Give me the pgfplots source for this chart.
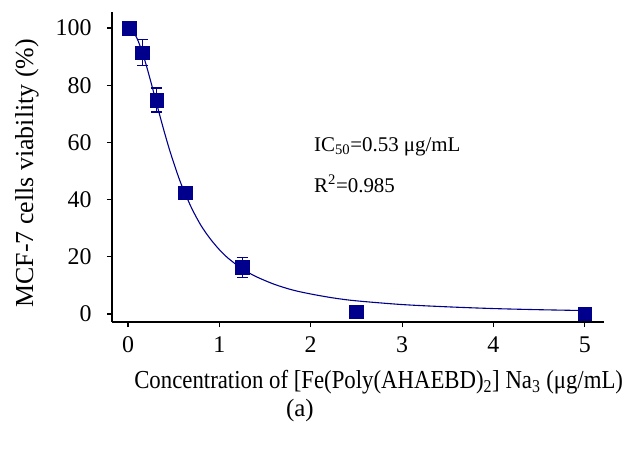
\documentclass[border=0pt]{standalone}
\usepackage{fontspec}
\setmainfont{Liberation Serif}
\newfontfamily\narrowserif{Liberation Serif}[FakeStretch=0.88]
\usepackage{pgfplots}
\pgfplotsset{compat=1.18}
\definecolor{navyblue}{RGB}{0,0,140}

\begin{document}
\begin{tikzpicture}
\begin{axis}[
    scale only axis,
    width=492bp, height=310bp,
    xmin=-0.175, xmax=5.21,
    ymin=-2.8, ymax=105.6,
    axis lines*=left,
    axis line style={line width=1.3bp, -},
    xtick={0,1,2,3,4,5},
    ytick={0,20,40,60,80,100},
    tick align=outside,
    major tick length=5bp,
    tick style={line width=1.1bp, black},
    /pgf/number format/assume math mode=true,
    ticklabel style={font=\fontsize{24}{24}\selectfont},
    yticklabel style={xshift=-12bp},
    xticklabel style={yshift=-6bp},
    xlabel={Concentration of [Fe(Poly(AHAEBD)\textsubscript{2}] Na\textsubscript{3} (μg/mL)},
    ylabel={MCF-7 cells viability (\%)},
    xlabel style={font=\narrowserif\fontsize{26}{26}\selectfont,
        at={(axis description cs:0.542,-0.195)}, anchor=center},
    ylabel style={font=\fontsize{26}{26}\selectfont,
        at={(axis description cs:-0.173,0.48)}, anchor=center, rotate=0},
    clip=false,
]
% fitted curve
\addplot[navyblue, line width=1.1bp, smooth] coordinates {
    (0,100)(0.05,99.0)(0.1,96.3)(0.15,92.1)(0.2,87.0)(0.25,81.2)
    (0.3,75.2)(0.35,69.2)(0.4,63.4)(0.45,57.9)(0.5,52.9)(0.55,48.2)
    (0.6,44.0)(0.7,36.8)(0.8,30.9)(0.9,26.3)(1.0,22.5)(1.1,19.4)
    (1.25,15.8)(1.4,13.1)(1.6,10.4)(1.8,8.4)(2.0,7.0)(2.25,5.6)
    (2.5,4.6)(3.0,3.3)(3.5,2.5)(4.0,1.9)(4.5,1.5)(5.0,1.2)
};
% measured viability with error bars
\addplot[navyblue, only marks, mark=square*, mark size=6.8bp,
    mark options={fill=navyblue},
    error bars/.cd, y dir=both, y explicit,
    error bar style={line width=1.3bp, navyblue},
    error mark options={rotate=90, mark size=5.5bp, line width=1.3bp, navyblue}]
coordinates {
    (0.01,100) +- (0,0.5)
    (0.156,91.4) +- (0,4.5)
    (0.3125,74.8) +- (0,4.2)
    (0.625,42.4) +- (0,1.5)
    (1.25,16.3) +- (0,3.5)
    (2.5,0.8) +- (0,2.2)
    (5,0.1) +- (0,0.5)
};
\node[anchor=west, font=\fontsize{21}{21}\selectfont] at (axis cs:2.0,58.4) {IC\textsubscript{50}=0.53 μg/mL};
\node[anchor=west, font=\fontsize{21}{21}\selectfont] at (axis cs:2.0,45.5) {R\textsuperscript{2}=0.985};
\node[font=\fontsize{25}{25}\selectfont] at (axis description cs:0.382,-0.285) {(a)};
\coordinate (O) at (rel axis cs:0,0);
\end{axis}
\pgfresetboundingbox
\path ([shift={(-112bp,-127bp)}]O) rectangle ++(625bp,449bp);
\end{tikzpicture}
\end{document}
